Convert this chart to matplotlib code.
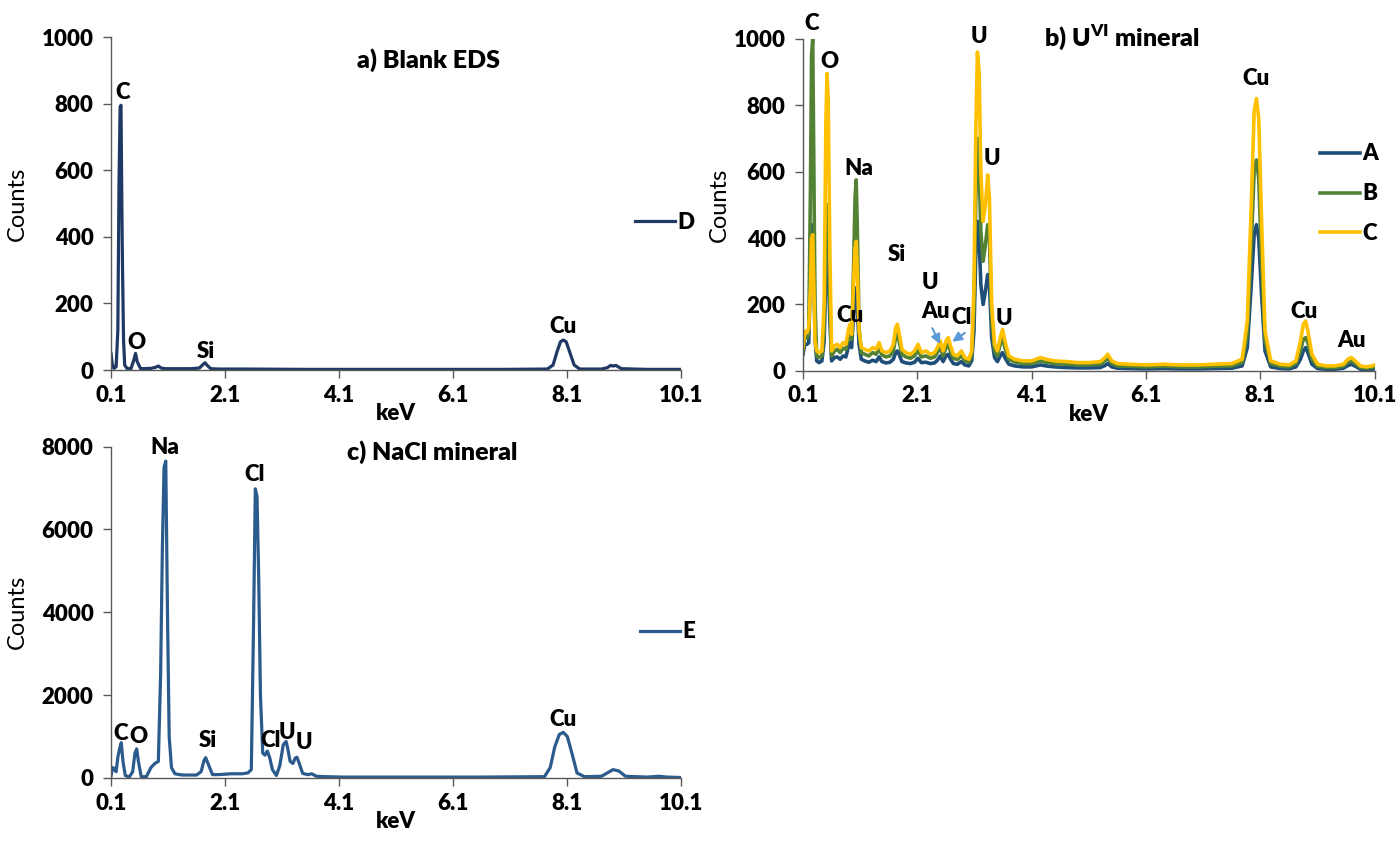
import matplotlib
matplotlib.use('Agg')
import matplotlib.pyplot as plt
import numpy as np

plt.rcParams['font.family'] = ['Lato', 'DejaVu Sans']
plt.rcParams['mathtext.fontset'] = 'custom'
plt.rcParams['mathtext.rm'] = 'Lato'
plt.rcParams['mathtext.bf'] = 'Lato:heavy'

# a) blank grid (series D)
kev_d = [0.10, 0.12, 0.15, 0.19, 0.22, 0.24, 0.26, 0.275, 0.29, 0.30,
         0.32, 0.34, 0.38, 0.45, 0.50, 0.53, 0.56, 0.62, 0.80, 0.88,
         0.93, 0.98, 1.05, 1.30, 1.50, 1.65, 1.72, 1.75, 1.78, 1.85,
         2.00, 2.50, 3.50, 5.00, 7.00, 7.75, 7.85, 7.92, 7.98, 8.03,
         8.08, 8.14, 8.22, 8.32, 8.70, 8.80, 8.86, 8.90, 8.95, 9.05,
         9.50, 10.10]
counts_d = [50, 20, 5, 10, 120, 560, 790, 795, 500, 330,
            90, 15, 5, 4, 30, 50, 25, 4, 5, 8,
            12, 6, 4, 4, 4, 6, 18, 22, 15, 4,
            3, 3, 2, 2, 2, 3, 15, 55, 85, 90,
            85, 55, 15, 3, 3, 7, 14, 12, 14, 4,
            2, 2]

# b) U(VI) mineral (series A, B, C share one energy grid)
kev_b = [0.10, 0.13, 0.17, 0.20, 0.23, 0.25, 0.27, 0.29, 0.31, 0.34,
         0.38, 0.43, 0.47, 0.50, 0.52, 0.54, 0.57, 0.60, 0.65, 0.70,
         0.75, 0.80, 0.85, 0.89, 0.92, 0.95, 0.98, 1.01, 1.03, 1.05,
         1.08, 1.12, 1.18, 1.25, 1.32, 1.38, 1.43, 1.48, 1.55, 1.62,
         1.68, 1.72, 1.75, 1.78, 1.83, 1.90, 1.98, 2.05, 2.11, 2.17,
         2.25, 2.33, 2.40, 2.45, 2.50, 2.55, 2.60, 2.64, 2.68, 2.73,
         2.80, 2.87, 2.93, 3.00, 3.05, 3.09, 3.12, 3.15, 3.18, 3.21,
         3.25, 3.29, 3.33, 3.36, 3.40, 3.45, 3.50, 3.55, 3.59, 3.63,
         3.70, 3.80, 3.95, 4.10, 4.25, 4.35, 4.50, 4.70, 4.90, 5.10,
         5.30, 5.38, 5.43, 5.50, 5.60, 5.80, 6.10, 6.40, 6.70, 7.00,
         7.30, 7.60, 7.78, 7.87, 7.94, 7.99, 8.03, 8.07, 8.12, 8.18,
         8.28, 8.45, 8.60, 8.72, 8.80, 8.85, 8.89, 8.93, 9.00, 9.10,
         9.25, 9.40, 9.55, 9.63, 9.69, 9.76, 9.85, 9.95, 10.05, 10.10]
counts_a = [50, 80, 80, 85, 300, 420, 440, 300, 100, 30,
            25, 30, 90, 300, 350, 320, 150, 30, 40, 42,
            35, 45, 42, 70, 85, 70, 160, 230, 250, 190,
            80, 35, 30, 26, 32, 28, 42, 28, 24, 26,
            35, 55, 60, 50, 28, 24, 22, 26, 38, 25,
            26, 22, 24, 32, 45, 28, 45, 50, 35, 22,
            20, 28, 18, 15, 30, 120, 340, 450, 400, 260,
            200, 240, 290, 260, 100, 40, 28, 45, 55, 40,
            20, 15, 12, 12, 18, 15, 12, 10, 9, 9,
            10, 16, 22, 12, 8, 7, 6, 7, 6, 6,
            7, 8, 15, 70, 260, 410, 440, 400, 230, 60,
            12, 7, 6, 12, 35, 60, 70, 55, 20, 7,
            5, 5, 8, 16, 20, 14, 5, 4, 5, 6]
counts_b = [60, 100, 100, 110, 550, 950, 1000, 600, 200, 45,
            40, 45, 120, 420, 500, 460, 200, 45, 60, 65,
            55, 68, 65, 95, 115, 95, 280, 520, 575, 430,
            130, 55, 50, 45, 55, 50, 68, 48, 42, 45,
            60, 100, 110, 90, 50, 42, 38, 45, 62, 42,
            45, 38, 42, 55, 72, 45, 70, 80, 58, 38,
            34, 46, 30, 26, 45, 180, 500, 700, 620, 420,
            330, 380, 440, 400, 150, 60, 45, 80, 100, 70,
            35, 27, 22, 22, 30, 26, 22, 20, 18, 18,
            20, 30, 38, 22, 15, 14, 12, 14, 12, 12,
            14, 15, 25, 110, 380, 600, 635, 580, 330, 90,
            22, 14, 12, 22, 60, 95, 100, 85, 35, 14,
            10, 10, 14, 26, 30, 22, 10, 8, 10, 12]
counts_c = [70, 120, 115, 130, 250, 400, 410, 250, 90, 60,
            55, 60, 200, 750, 895, 820, 350, 60, 75, 80,
            70, 85, 80, 120, 140, 110, 250, 370, 390, 300,
            120, 70, 65, 60, 70, 65, 85, 60, 55, 60,
            80, 130, 140, 115, 65, 55, 50, 60, 80, 55,
            60, 50, 55, 70, 90, 60, 90, 100, 75, 50,
            45, 60, 40, 35, 60, 250, 700, 960, 900, 600,
            450, 500, 590, 520, 200, 80, 60, 100, 125, 90,
            45, 35, 30, 30, 40, 35, 30, 28, 25, 25,
            28, 40, 50, 30, 22, 20, 18, 20, 18, 18,
            20, 22, 35, 150, 500, 780, 820, 760, 450, 120,
            30, 20, 18, 30, 90, 140, 150, 120, 50, 20,
            15, 15, 20, 35, 40, 30, 15, 12, 15, 18]

# c) NaCl mineral (series E)
kev_e = [0.10, 0.13, 0.16, 0.19, 0.22, 0.25, 0.28, 0.31, 0.35, 0.42,
         0.48, 0.52, 0.55, 0.58, 0.63, 0.72, 0.80, 0.87, 0.93, 0.97,
         1.00, 1.03, 1.06, 1.09, 1.12, 1.16, 1.22, 1.35, 1.60, 1.68,
         1.73, 1.76, 1.80, 1.88, 2.00, 2.20, 2.40, 2.50, 2.56, 2.60,
         2.63, 2.66, 2.69, 2.72, 2.76, 2.80, 2.84, 2.88, 2.93, 3.00,
         3.06, 3.12, 3.17, 3.20, 3.24, 3.29, 3.33, 3.36, 3.40, 3.46,
         3.55, 3.62, 3.70, 3.85, 4.20, 5.50, 6.50, 7.70, 7.80, 7.88,
         7.96, 8.03, 8.10, 8.18, 8.27, 8.40, 8.70, 8.80, 8.90, 9.00,
         9.12, 9.50, 9.70, 9.85, 10.10]
counts_e = [50, 250, 220, 150, 500, 700, 850, 400, 60, 20,
            150, 600, 700, 400, 30, 30, 250, 350, 400, 2500,
            5500, 7500, 7650, 4000, 1000, 250, 100, 70, 70, 150,
            420, 490, 350, 80, 80, 100, 100, 120, 200, 3800,
            6980, 6800, 4800, 2000, 600, 550, 650, 500, 200, 60,
            300, 800, 880, 700, 400, 350, 480, 500, 350, 110,
            80, 100, 40, 30, 20, 20, 20, 30, 250, 750,
            1050, 1100, 1000, 600, 120, 30, 40, 120, 200, 170,
            40, 20, 40, 20, 10]

x_ticks = [0.1, 2.1, 4.1, 6.1, 8.1, 10.1]

# peak labels: (text, keV, counts)
labels_a = [('C', 0.30, 832), ('O', 0.55, 82), ('Si', 1.76, 57), ('Cu', 8.03, 132)]
labels_b = [('C', 0.26, 1046), ('O', 0.57, 930), ('Na', 1.07, 608), ('Cu', 0.92, 166),
            ('Si', 1.74, 350), ('U', 2.32, 266), ('Au', 2.41, 179), ('Cl', 2.87, 162),
            ('U', 3.18, 1006), ('U', 3.40, 639), ('U', 3.61, 159), ('Cu', 8.03, 879),
            ('Cu', 8.87, 179), ('Au', 9.69, 90)]
labels_c = [('Na', 1.05, 7982), ('Cl', 2.62, 7315), ('C', 0.27, 1069), ('O', 0.58, 989),
            ('Si', 1.80, 908), ('Cl', 2.89, 908), ('U', 3.19, 1085), ('U', 3.48, 860),
            ('Cu', 8.03, 1407)]

AXIS_GRAY = '#595959'
BOLD = 'heavy'


def style_axes(ax, ymax, ystep, ylab_x):
    ax.set_xlim(0.1, 10.1)
    ax.set_ylim(0, ymax)
    ax.set_xticks(x_ticks)
    ax.set_xticklabels([f'{t:.1f}' for t in x_ticks])
    ax.set_yticks(np.arange(0, ymax + 1, ystep))
    for side in ('top', 'right'):
        ax.spines[side].set_visible(False)
    for side in ('left', 'bottom'):
        ax.spines[side].set_color(AXIS_GRAY)
        ax.spines[side].set_linewidth(1)
    ax.tick_params(direction='out', length=5.5, width=1, color=AXIS_GRAY,
                   labelsize=16, pad=5)
    ax.tick_params(axis='y', pad=7)
    for lab in ax.get_xticklabels() + ax.get_yticklabels():
        lab.set_fontweight(BOLD)
    ax.set_xlabel('keV', fontsize=16, fontweight=BOLD, labelpad=-2)
    ax.set_ylabel('Counts', fontsize=17)
    ax.yaxis.set_label_coords(ylab_x, 0.5)
    ax.patch.set_alpha(0)


def put_labels(ax, labels):
    for txt, x, y in labels:
        ax.text(x, y, txt, ha='center', va='center', fontsize=16,
                fontweight=BOLD)


fig = plt.figure(figsize=(13.98, 8.41), dpi=100)
ax_a = fig.add_axes([0.0794, 0.560, 0.408, 0.396])
ax_b = fig.add_axes([0.5744, 0.559, 0.409, 0.395])
ax_c = fig.add_axes([0.0794, 0.075, 0.408, 0.394])

leg_kw = dict(frameon=False, handlelength=1.8, handletextpad=0.1,
              borderpad=0, borderaxespad=0, loc='center left',
              prop={'weight': BOLD, 'size': 16})

# a) Blank EDS
ax_a.plot(kev_d, counts_d, color='#1F3864', lw=2.3, label='D')
style_axes(ax_a, 1000, 200, -0.145)
put_labels(ax_a, labels_a)
ax_a.text(5.66, 932, 'a) Blank EDS', ha='center', va='center', fontsize=18,
          fontweight=BOLD)
ax_a.legend(bbox_to_anchor=(0.919, 0.444), **leg_kw)

# b) U(VI) mineral
ax_b.plot(kev_b, counts_a, color='#1F4E79', lw=2.6, label='A')
ax_b.plot(kev_b, counts_b, color='#548235', lw=2.6, label='B')
ax_b.plot(kev_b, counts_c, color='#FFC000', lw=2.6, label='C')
style_axes(ax_b, 1000, 200, -0.128)
put_labels(ax_b, labels_b)
ax_b.text(5.67, 1006, r'b) U$^{\mathbf{VI}}$ mineral', ha='center', va='center',
          fontsize=18, fontweight=BOLD)
arrow = dict(arrowstyle='-|>', color='#5B9BD5', lw=1.5, mutation_scale=14)
ax_b.annotate('', xy=(2.52, 73), xytext=(2.34, 136), arrowprops=arrow)
ax_b.annotate('', xy=(2.67, 83), xytext=(2.97, 119), arrowprops=arrow)
ax_b.legend(bbox_to_anchor=(0.904, 0.533), labelspacing=0.85, **leg_kw)

# c) NaCl mineral
ax_c.plot(kev_e, counts_e, color='#2B5A8C', lw=2.3, label='E')
style_axes(ax_c, 8000, 2000, -0.145)
put_labels(ax_c, labels_c)
ax_c.text(5.74, 7862, 'c) NaCl mineral', ha='center', va='center', fontsize=18,
          fontweight=BOLD)
ax_c.legend(bbox_to_anchor=(0.928, 0.441), **leg_kw)

fig.savefig('out.png', dpi=100, facecolor='white')
